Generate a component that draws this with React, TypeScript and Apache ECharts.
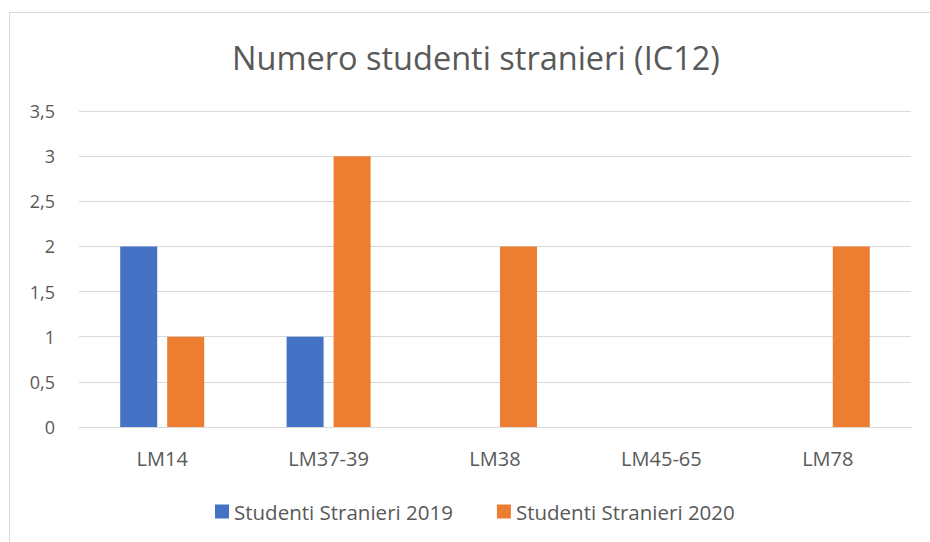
import React, { useEffect, useRef } from "react";
import * as echarts from "echarts";

const categories = ["LM14", "LM37-39", "LM38", "LM45-65", "LM78"];
const series2019 = [2, 1, 0, 0, 0];
const series2020 = [1, 3, 2, 0, 2];
const seriesNames = ["Studenti Stranieri 2019", "Studenti Stranieri 2020"];
const titleText = "Numero studenti stranieri (IC12)";

const FONT = "'Open Sans', sans-serif";
const TXT = "#595959";

export default function App() {
  const ref = useRef<HTMLDivElement>(null);
  useEffect(() => {
    if (!ref.current) return;
    const chart = echarts.init(ref.current, null, { renderer: "svg" });
    chart.setOption({
      animation: false,
      backgroundColor: "#ffffff",
      textStyle: { fontFamily: FONT },
      title: {
        text: titleText,
        left: 227,
        top: 36,
        textStyle: { fontFamily: FONT, fontSize: 32.5, fontWeight: "normal", color: TXT },
      },
      graphic: [
        {
          type: "rect",
          shape: { x: 9.5, y: 12.5, width: 940, height: 560 },
          style: { fill: "none", stroke: "#d9d9d9", lineWidth: 1 },
          silent: true,
        },
      ],
      legend: {
        bottom: 20,
        left: 215,
        padding: 0,
        itemWidth: 14,
        itemHeight: 14,
        itemGap: 44,
        icon: "rect",
        textStyle: { fontFamily: FONT, fontSize: 20.5, color: TXT },
        data: seriesNames,
      },
      grid: { left: 79, right: 19, top: 111, bottom: 115, containLabel: false },
      xAxis: {
        type: "category",
        data: categories,
        axisLine: { lineStyle: { color: "#d9d9d9", width: 1 } },
        axisTick: { show: false },
        axisLabel: { color: TXT, fontFamily: FONT, fontSize: 20, margin: 21 },
      },
      yAxis: {
        type: "value",
        min: 0,
        max: 3.5,
        interval: 0.5,
        axisLine: { show: false },
        axisTick: { show: false },
        splitLine: { lineStyle: { color: "#d9d9d9", width: 1 } },
        axisLabel: {
          color: TXT,
          fontFamily: FONT,
          fontSize: 18,
          margin: 24,
          formatter: (v: number) => String(v).replace(".", ","),
        },
      },
      series: [
        {
          name: seriesNames[0],
          type: "bar",
          data: series2019,
          barWidth: 37,
          barGap: "27%",
          itemStyle: { color: "#4472c4" },
        },
        {
          name: seriesNames[1],
          type: "bar",
          data: series2020,
          barWidth: 37,
          itemStyle: { color: "#ed7d31" },
        },
      ],
    });
    return () => chart.dispose();
  }, []);
  return (
    <div
      ref={ref}
      style={{ position: "fixed", left: 0, top: 0, width: 930, height: 542 }}
    />
  );
}
